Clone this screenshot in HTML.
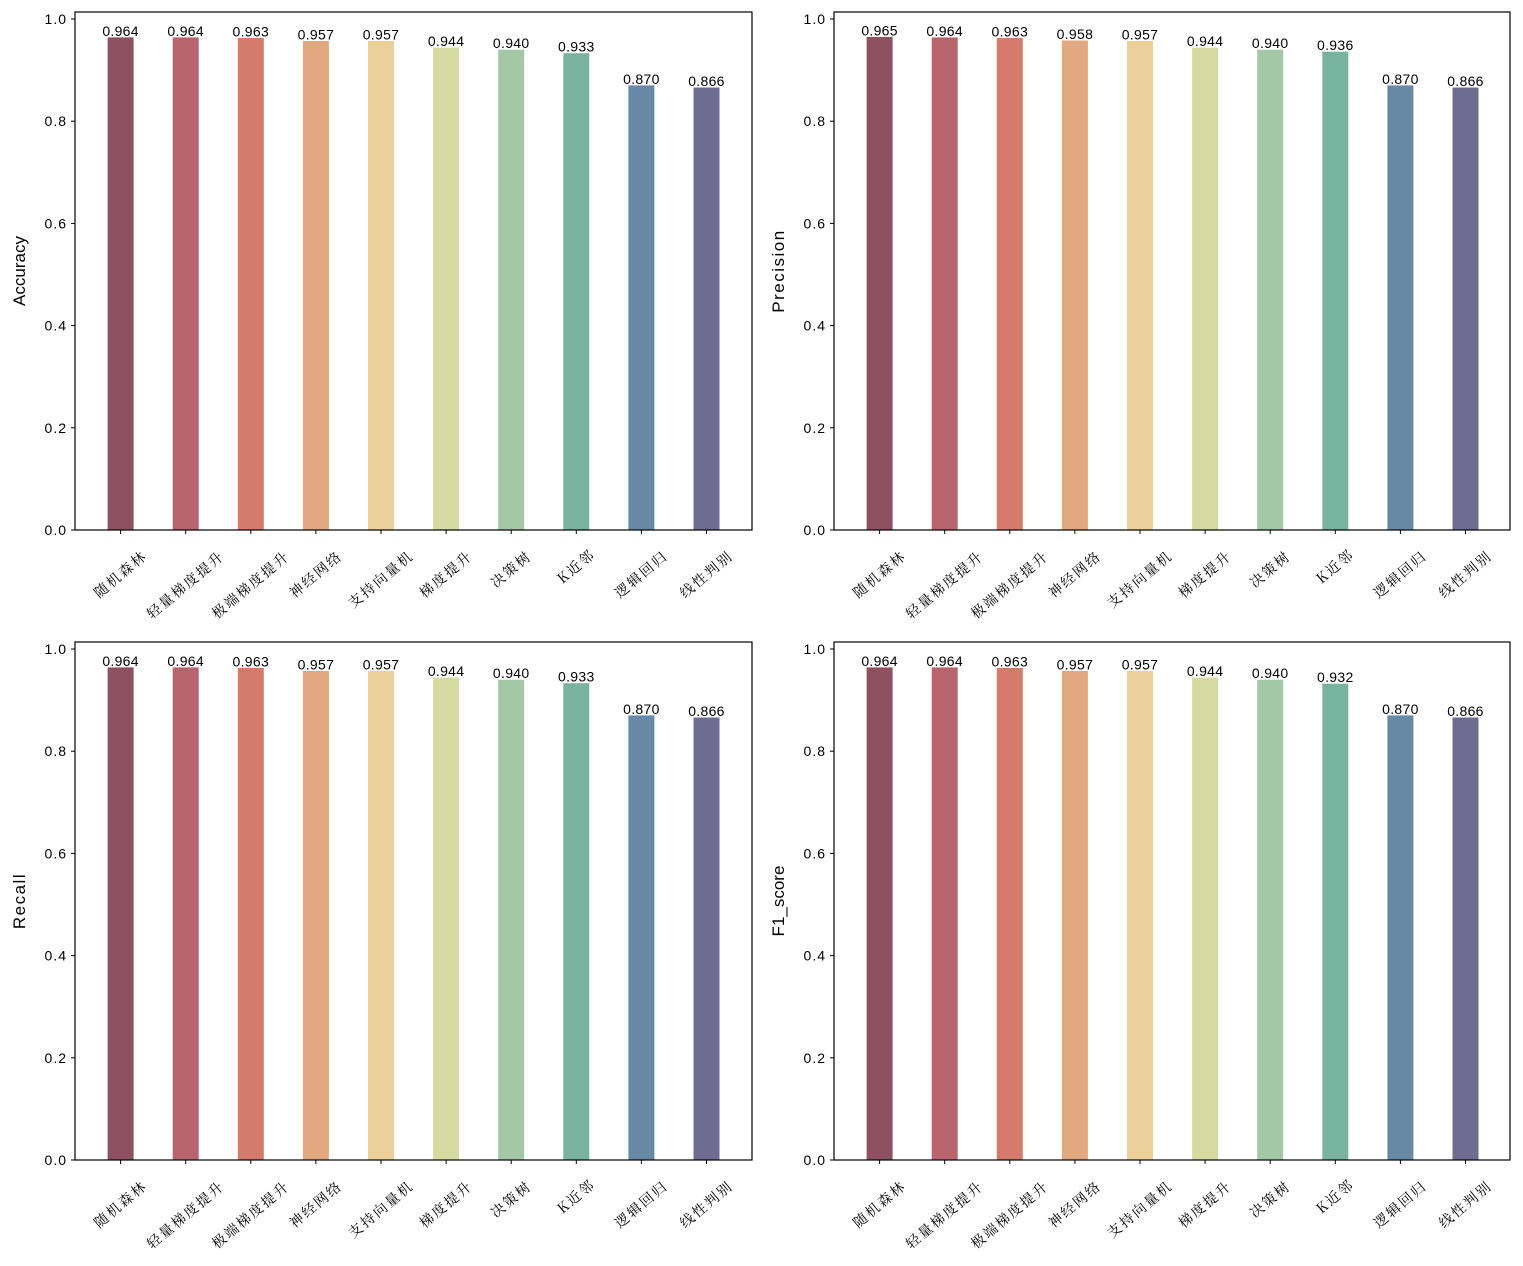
<!DOCTYPE html>
<html><head><meta charset="utf-8"><style>
html,body{margin:0;padding:0;background:#fff}
svg{display:block}
text{font-family:"Liberation Sans","Noto Sans CJK SC",sans-serif;fill:#000}
.v{font-size:14px;text-anchor:middle;letter-spacing:0.3px}
.t{font-size:14px;text-anchor:end;letter-spacing:1px}
.x{font-size:14px;text-anchor:middle;letter-spacing:2px;font-family:"Noto Serif CJK SC","Liberation Sans",serif}
.yl{font-size:17px;text-anchor:middle}
</style></head><body>
<svg width="1523" height="1266" viewBox="0 0 1523 1266" xmlns="http://www.w3.org/2000/svg">

<!-- Panel 1 -->
<g transform="translate(75,12)">
<rect x="32.6" y="25.4" width="26" height="492.6" fill="#8E5160"/>
<rect x="97.7" y="25.4" width="26" height="492.6" fill="#B8646D"/>
<rect x="162.8" y="25.9" width="26" height="492.1" fill="#D47B6E"/>
<rect x="227.9" y="29.0" width="26" height="489" fill="#E2A880"/>
<rect x="293.0" y="29.0" width="26" height="489" fill="#EBD09A"/>
<rect x="358.1" y="35.6" width="26" height="482.4" fill="#D5DBA0"/>
<rect x="423.2" y="37.7" width="26" height="480.3" fill="#A3C8A6"/>
<rect x="488.3" y="41.2" width="26" height="476.8" fill="#79B3A0"/>
<rect x="553.4" y="73.4" width="26" height="444.6" fill="#6889A5"/>
<rect x="618.5" y="75.5" width="26" height="442.5" fill="#6D6C91"/>
<text class="v" x="45.6" y="24">0.964</text>
<text class="v" x="110.7" y="24">0.964</text>
<text class="v" x="175.8" y="24.5">0.963</text>
<text class="v" x="240.9" y="27.5">0.957</text>
<text class="v" x="306" y="27.5">0.957</text>
<text class="v" x="371.1" y="34">0.944</text>
<text class="v" x="436.2" y="36">0.940</text>
<text class="v" x="501.3" y="39.5">0.933</text>
<text class="v" x="566.4" y="72">0.870</text>
<text class="v" x="631.5" y="74">0.866</text>
<rect x="0" y="0" width="677" height="518" fill="none" stroke="#000" stroke-width="1.2"/>
<g stroke="#000" stroke-width="1">
<line x1="-4" y1="518" x2="0" y2="518"/><line x1="-4" y1="415.8" x2="0" y2="415.8"/><line x1="-4" y1="313.6" x2="0" y2="313.6"/><line x1="-4" y1="211.4" x2="0" y2="211.4"/><line x1="-4" y1="109.2" x2="0" y2="109.2"/><line x1="-4" y1="7" x2="0" y2="7"/>
<line x1="45.6" y1="518" x2="45.6" y2="522"/><line x1="110.7" y1="518" x2="110.7" y2="522"/><line x1="175.8" y1="518" x2="175.8" y2="522"/><line x1="240.9" y1="518" x2="240.9" y2="522"/><line x1="306" y1="518" x2="306" y2="522"/><line x1="371.1" y1="518" x2="371.1" y2="522"/><line x1="436.2" y1="518" x2="436.2" y2="522"/><line x1="501.3" y1="518" x2="501.3" y2="522"/><line x1="566.4" y1="518" x2="566.4" y2="522"/><line x1="631.5" y1="518" x2="631.5" y2="522"/>
</g>
<text class="t" x="-8" y="523">0.0</text><text class="t" x="-8" y="420.8">0.2</text><text class="t" x="-8" y="318.6">0.4</text><text class="t" x="-8" y="216.4">0.6</text><text class="t" x="-8" y="114.2">0.8</text><text class="t" x="-8" y="12">1.0</text>
<text class="yl" transform="translate(-50,259) rotate(-90)">Accuracy</text>
<text class="x" transform="translate(48.6,566) rotate(-40)">随机森林</text>
<text class="x" transform="translate(113.7,576.5) rotate(-40)">轻量梯度提升</text>
<text class="x" transform="translate(178.8,576.5) rotate(-40)">极端梯度提升</text>
<text class="x" transform="translate(243.9,566) rotate(-40)">神经网络</text>
<text class="x" transform="translate(309,571) rotate(-40)">支持向量机</text>
<text class="x" transform="translate(374.1,566) rotate(-40)">梯度提升</text>
<text class="x" transform="translate(439.2,561) rotate(-40)">决策树</text>
<text class="x" transform="translate(504.3,558) rotate(-40)">K近邻</text>
<text class="x" transform="translate(569.4,566) rotate(-40)">逻辑回归</text>
<text class="x" transform="translate(634.5,566) rotate(-40)">线性判别</text>
</g>

<!-- Panel 2 -->
<g transform="translate(834,12)">
<rect x="32.6" y="24.9" width="26" height="493.1" fill="#8E5160"/>
<rect x="97.7" y="25.4" width="26" height="492.6" fill="#B8646D"/>
<rect x="162.8" y="25.9" width="26" height="492.1" fill="#D47B6E"/>
<rect x="227.9" y="28.5" width="26" height="489.5" fill="#E2A880"/>
<rect x="293.0" y="29.0" width="26" height="489" fill="#EBD09A"/>
<rect x="358.1" y="35.6" width="26" height="482.4" fill="#D5DBA0"/>
<rect x="423.2" y="37.7" width="26" height="480.3" fill="#A3C8A6"/>
<rect x="488.3" y="39.7" width="26" height="478.3" fill="#79B3A0"/>
<rect x="553.4" y="73.4" width="26" height="444.6" fill="#6889A5"/>
<rect x="618.5" y="75.5" width="26" height="442.5" fill="#6D6C91"/>
<text class="v" x="45.6" y="23.5">0.965</text>
<text class="v" x="110.7" y="24">0.964</text>
<text class="v" x="175.8" y="24.5">0.963</text>
<text class="v" x="240.9" y="27">0.958</text>
<text class="v" x="306" y="27.5">0.957</text>
<text class="v" x="371.1" y="34">0.944</text>
<text class="v" x="436.2" y="36">0.940</text>
<text class="v" x="501.3" y="38">0.936</text>
<text class="v" x="566.4" y="72">0.870</text>
<text class="v" x="631.5" y="74">0.866</text>
<rect x="0" y="0" width="676" height="518" fill="none" stroke="#000" stroke-width="1.2"/>
<g stroke="#000" stroke-width="1">
<line x1="-4" y1="518" x2="0" y2="518"/><line x1="-4" y1="415.8" x2="0" y2="415.8"/><line x1="-4" y1="313.6" x2="0" y2="313.6"/><line x1="-4" y1="211.4" x2="0" y2="211.4"/><line x1="-4" y1="109.2" x2="0" y2="109.2"/><line x1="-4" y1="7" x2="0" y2="7"/>
<line x1="45.6" y1="518" x2="45.6" y2="522"/><line x1="110.7" y1="518" x2="110.7" y2="522"/><line x1="175.8" y1="518" x2="175.8" y2="522"/><line x1="240.9" y1="518" x2="240.9" y2="522"/><line x1="306" y1="518" x2="306" y2="522"/><line x1="371.1" y1="518" x2="371.1" y2="522"/><line x1="436.2" y1="518" x2="436.2" y2="522"/><line x1="501.3" y1="518" x2="501.3" y2="522"/><line x1="566.4" y1="518" x2="566.4" y2="522"/><line x1="631.5" y1="518" x2="631.5" y2="522"/>
</g>
<text class="t" x="-8" y="523">0.0</text><text class="t" x="-8" y="420.8">0.2</text><text class="t" x="-8" y="318.6">0.4</text><text class="t" x="-8" y="216.4">0.6</text><text class="t" x="-8" y="114.2">0.8</text><text class="t" x="-8" y="12">1.0</text>
<text class="yl" style="letter-spacing:1.5px" transform="translate(-50,259) rotate(-90)">Precision</text>
<text class="x" transform="translate(48.6,566) rotate(-40)">随机森林</text>
<text class="x" transform="translate(113.7,576.5) rotate(-40)">轻量梯度提升</text>
<text class="x" transform="translate(178.8,576.5) rotate(-40)">极端梯度提升</text>
<text class="x" transform="translate(243.9,566) rotate(-40)">神经网络</text>
<text class="x" transform="translate(309,571) rotate(-40)">支持向量机</text>
<text class="x" transform="translate(374.1,566) rotate(-40)">梯度提升</text>
<text class="x" transform="translate(439.2,561) rotate(-40)">决策树</text>
<text class="x" transform="translate(504.3,558) rotate(-40)">K近邻</text>
<text class="x" transform="translate(569.4,566) rotate(-40)">逻辑回归</text>
<text class="x" transform="translate(634.5,566) rotate(-40)">线性判别</text>
</g>

<!-- Panel 3 -->
<g transform="translate(75,642)">
<rect x="32.6" y="25.4" width="26" height="492.6" fill="#8E5160"/>
<rect x="97.7" y="25.4" width="26" height="492.6" fill="#B8646D"/>
<rect x="162.8" y="25.9" width="26" height="492.1" fill="#D47B6E"/>
<rect x="227.9" y="29.0" width="26" height="489" fill="#E2A880"/>
<rect x="293.0" y="29.0" width="26" height="489" fill="#EBD09A"/>
<rect x="358.1" y="35.6" width="26" height="482.4" fill="#D5DBA0"/>
<rect x="423.2" y="37.7" width="26" height="480.3" fill="#A3C8A6"/>
<rect x="488.3" y="41.2" width="26" height="476.8" fill="#79B3A0"/>
<rect x="553.4" y="73.4" width="26" height="444.6" fill="#6889A5"/>
<rect x="618.5" y="75.5" width="26" height="442.5" fill="#6D6C91"/>
<text class="v" x="45.6" y="24">0.964</text>
<text class="v" x="110.7" y="24">0.964</text>
<text class="v" x="175.8" y="24.5">0.963</text>
<text class="v" x="240.9" y="27.5">0.957</text>
<text class="v" x="306" y="27.5">0.957</text>
<text class="v" x="371.1" y="34">0.944</text>
<text class="v" x="436.2" y="36">0.940</text>
<text class="v" x="501.3" y="39.5">0.933</text>
<text class="v" x="566.4" y="72">0.870</text>
<text class="v" x="631.5" y="74">0.866</text>
<rect x="0" y="0" width="677" height="518" fill="none" stroke="#000" stroke-width="1.2"/>
<g stroke="#000" stroke-width="1">
<line x1="-4" y1="518" x2="0" y2="518"/><line x1="-4" y1="415.8" x2="0" y2="415.8"/><line x1="-4" y1="313.6" x2="0" y2="313.6"/><line x1="-4" y1="211.4" x2="0" y2="211.4"/><line x1="-4" y1="109.2" x2="0" y2="109.2"/><line x1="-4" y1="7" x2="0" y2="7"/>
<line x1="45.6" y1="518" x2="45.6" y2="522"/><line x1="110.7" y1="518" x2="110.7" y2="522"/><line x1="175.8" y1="518" x2="175.8" y2="522"/><line x1="240.9" y1="518" x2="240.9" y2="522"/><line x1="306" y1="518" x2="306" y2="522"/><line x1="371.1" y1="518" x2="371.1" y2="522"/><line x1="436.2" y1="518" x2="436.2" y2="522"/><line x1="501.3" y1="518" x2="501.3" y2="522"/><line x1="566.4" y1="518" x2="566.4" y2="522"/><line x1="631.5" y1="518" x2="631.5" y2="522"/>
</g>
<text class="t" x="-8" y="523">0.0</text><text class="t" x="-8" y="420.8">0.2</text><text class="t" x="-8" y="318.6">0.4</text><text class="t" x="-8" y="216.4">0.6</text><text class="t" x="-8" y="114.2">0.8</text><text class="t" x="-8" y="12">1.0</text>
<text class="yl" style="letter-spacing:1.5px" transform="translate(-50,259) rotate(-90)">Recall</text>
<text class="x" transform="translate(48.6,566) rotate(-40)">随机森林</text>
<text class="x" transform="translate(113.7,576.5) rotate(-40)">轻量梯度提升</text>
<text class="x" transform="translate(178.8,576.5) rotate(-40)">极端梯度提升</text>
<text class="x" transform="translate(243.9,566) rotate(-40)">神经网络</text>
<text class="x" transform="translate(309,571) rotate(-40)">支持向量机</text>
<text class="x" transform="translate(374.1,566) rotate(-40)">梯度提升</text>
<text class="x" transform="translate(439.2,561) rotate(-40)">决策树</text>
<text class="x" transform="translate(504.3,558) rotate(-40)">K近邻</text>
<text class="x" transform="translate(569.4,566) rotate(-40)">逻辑回归</text>
<text class="x" transform="translate(634.5,566) rotate(-40)">线性判别</text>
</g>

<!-- Panel 4 -->
<g transform="translate(834,642)">
<rect x="32.6" y="25.4" width="26" height="492.6" fill="#8E5160"/>
<rect x="97.7" y="25.4" width="26" height="492.6" fill="#B8646D"/>
<rect x="162.8" y="25.9" width="26" height="492.1" fill="#D47B6E"/>
<rect x="227.9" y="29.0" width="26" height="489" fill="#E2A880"/>
<rect x="293.0" y="29.0" width="26" height="489" fill="#EBD09A"/>
<rect x="358.1" y="35.6" width="26" height="482.4" fill="#D5DBA0"/>
<rect x="423.2" y="37.7" width="26" height="480.3" fill="#A3C8A6"/>
<rect x="488.3" y="41.7" width="26" height="476.3" fill="#79B3A0"/>
<rect x="553.4" y="73.4" width="26" height="444.6" fill="#6889A5"/>
<rect x="618.5" y="75.5" width="26" height="442.5" fill="#6D6C91"/>
<text class="v" x="45.6" y="24">0.964</text>
<text class="v" x="110.7" y="24">0.964</text>
<text class="v" x="175.8" y="24.5">0.963</text>
<text class="v" x="240.9" y="27.5">0.957</text>
<text class="v" x="306" y="27.5">0.957</text>
<text class="v" x="371.1" y="34">0.944</text>
<text class="v" x="436.2" y="36">0.940</text>
<text class="v" x="501.3" y="40">0.932</text>
<text class="v" x="566.4" y="72">0.870</text>
<text class="v" x="631.5" y="74">0.866</text>
<rect x="0" y="0" width="676" height="518" fill="none" stroke="#000" stroke-width="1.2"/>
<g stroke="#000" stroke-width="1">
<line x1="-4" y1="518" x2="0" y2="518"/><line x1="-4" y1="415.8" x2="0" y2="415.8"/><line x1="-4" y1="313.6" x2="0" y2="313.6"/><line x1="-4" y1="211.4" x2="0" y2="211.4"/><line x1="-4" y1="109.2" x2="0" y2="109.2"/><line x1="-4" y1="7" x2="0" y2="7"/>
<line x1="45.6" y1="518" x2="45.6" y2="522"/><line x1="110.7" y1="518" x2="110.7" y2="522"/><line x1="175.8" y1="518" x2="175.8" y2="522"/><line x1="240.9" y1="518" x2="240.9" y2="522"/><line x1="306" y1="518" x2="306" y2="522"/><line x1="371.1" y1="518" x2="371.1" y2="522"/><line x1="436.2" y1="518" x2="436.2" y2="522"/><line x1="501.3" y1="518" x2="501.3" y2="522"/><line x1="566.4" y1="518" x2="566.4" y2="522"/><line x1="631.5" y1="518" x2="631.5" y2="522"/>
</g>
<text class="t" x="-8" y="523">0.0</text><text class="t" x="-8" y="420.8">0.2</text><text class="t" x="-8" y="318.6">0.4</text><text class="t" x="-8" y="216.4">0.6</text><text class="t" x="-8" y="114.2">0.8</text><text class="t" x="-8" y="12">1.0</text>
<text class="yl" transform="translate(-50,259) rotate(-90)">F1_score</text>
<text class="x" transform="translate(48.6,566) rotate(-40)">随机森林</text>
<text class="x" transform="translate(113.7,576.5) rotate(-40)">轻量梯度提升</text>
<text class="x" transform="translate(178.8,576.5) rotate(-40)">极端梯度提升</text>
<text class="x" transform="translate(243.9,566) rotate(-40)">神经网络</text>
<text class="x" transform="translate(309,571) rotate(-40)">支持向量机</text>
<text class="x" transform="translate(374.1,566) rotate(-40)">梯度提升</text>
<text class="x" transform="translate(439.2,561) rotate(-40)">决策树</text>
<text class="x" transform="translate(504.3,558) rotate(-40)">K近邻</text>
<text class="x" transform="translate(569.4,566) rotate(-40)">逻辑回归</text>
<text class="x" transform="translate(634.5,566) rotate(-40)">线性判别</text>
</g>
</svg>
</body></html>
